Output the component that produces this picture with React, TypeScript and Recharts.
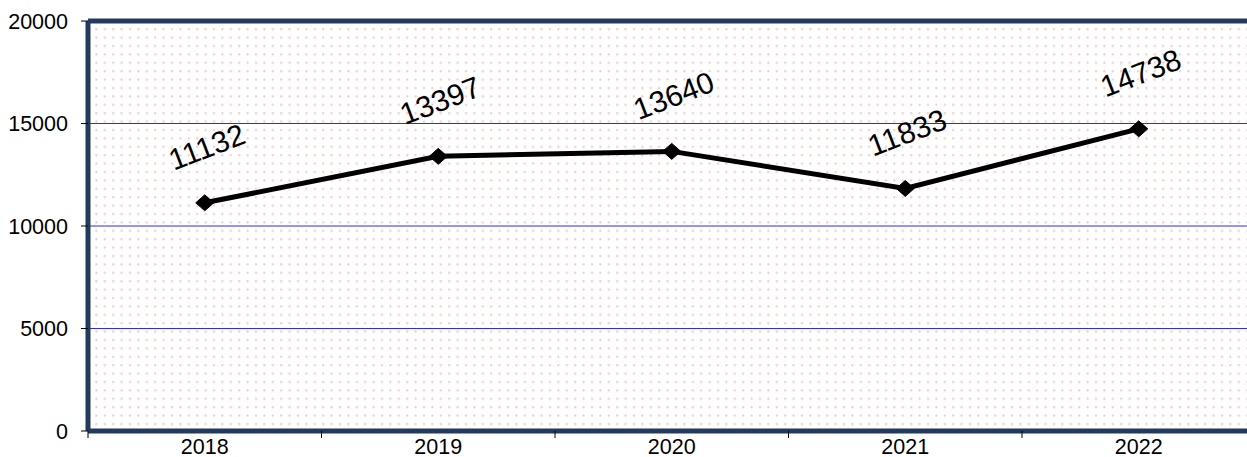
import React from "react";
import { LineChart, Line, XAxis, YAxis, CartesianGrid, LabelList, ReferenceLine } from "recharts";

const years: string[] = ["2018", "2019", "2020", "2021", "2022"];
const values: number[] = [11132, 13397, 13640, 11833, 14738];
const yTicks: number[] = [0, 5000, 10000, 15000, 20000];

const data = years.map((y, i) => ({ idx: i, year: y, value: values[i] }));

const NAVY = "#243a5c";
const FONT = "Arial, 'Liberation Sans', sans-serif";
const HALF_BAND = 116.75;

const XTick = (props: any) => {
  const { x, y, payload } = props;
  return (
    <g>
      <line x1={x - HALF_BAND} y1={y} x2={x - HALF_BAND} y2={y + 7} stroke="#000" strokeWidth={1} />
      <text x={x} y={y + 23} textAnchor="middle" fontSize={21.5} fontFamily={FONT} fill="#000">
        {years[payload.value]}
      </text>
    </g>
  );
};

const Diamond = (props: any) => {
  const { cx, cy } = props;
  if (cx == null || cy == null) return null;
  return (
    <polygon
      points={`${cx - 9},${cy} ${cx},${cy - 8} ${cx + 9},${cy} ${cx},${cy + 8}`}
      fill="#000"
      stroke="#000"
    />
  );
};

const ValueLabel = (props: any) => {
  const { x, y, value } = props;
  const lx = x + 2;
  const ly = y - 56;
  return (
    <text
      x={lx}
      y={ly}
      textAnchor="middle"
      dominantBaseline="central"
      fontSize={30}
      fontFamily={FONT}
      fill="#000"
      transform={`rotate(-21 ${lx} ${ly})`}
    >
      {value}
    </text>
  );
};

export default function App() {
  return (
    <div
      style={{
        position: "absolute",
        left: 0,
        top: 0,
        width: 1247,
        height: 457,
        overflow: "hidden",
        background: "#fff",
      }}
    >
      <LineChart
        width={1270}
        height={457}
        data={data}
        margin={{ top: 21, right: 14.5, bottom: 0, left: 0 }}
      >
        <defs>
          <pattern id="dots" width="8.4" height="8.4" patternUnits="userSpaceOnUse">
            <rect x="0" y="0" width="8.4" height="8.4" fill="#ffffff" />
            <rect x="3" y="3" width="2" height="2" fill="#f0c8c8" />
          </pattern>
        </defs>
        <CartesianGrid
          vertical={false}
          stroke="#2a2aff"
          strokeWidth={1}
          fill="url(#dots)"
          fillOpacity={1}
        />
        <ReferenceLine y={20000} stroke={NAVY} strokeWidth={5} ifOverflow="visible" />
        <XAxis
          dataKey="idx"
          type="number"
          domain={[-0.5, 4.5]}
          ticks={[0, 1, 2, 3, 4]}
          height={26}
          tickSize={0}
          tickMargin={0}
          tickLine={false}
          axisLine={{ stroke: NAVY, strokeWidth: 5 }}
          tick={<XTick />}
          interval={0}
        />
        <YAxis
          type="number"
          domain={[0, 20000]}
          ticks={yTicks}
          width={88}
          tickSize={7}
          tickMargin={13}
          interval={0}
          tickLine={{ stroke: "#000", strokeWidth: 1 }}
          axisLine={{ stroke: NAVY, strokeWidth: 5 }}
          tick={{ fontSize: 21.5, fontFamily: FONT, fill: "#000" }}
        />
        <Line
          type="linear"
          dataKey="value"
          stroke="#000"
          strokeWidth={5}
          dot={<Diamond />}
          activeDot={false}
          isAnimationActive={false}
        >
          <LabelList dataKey="value" content={<ValueLabel />} />
        </Line>
      </LineChart>
    </div>
  );
}
